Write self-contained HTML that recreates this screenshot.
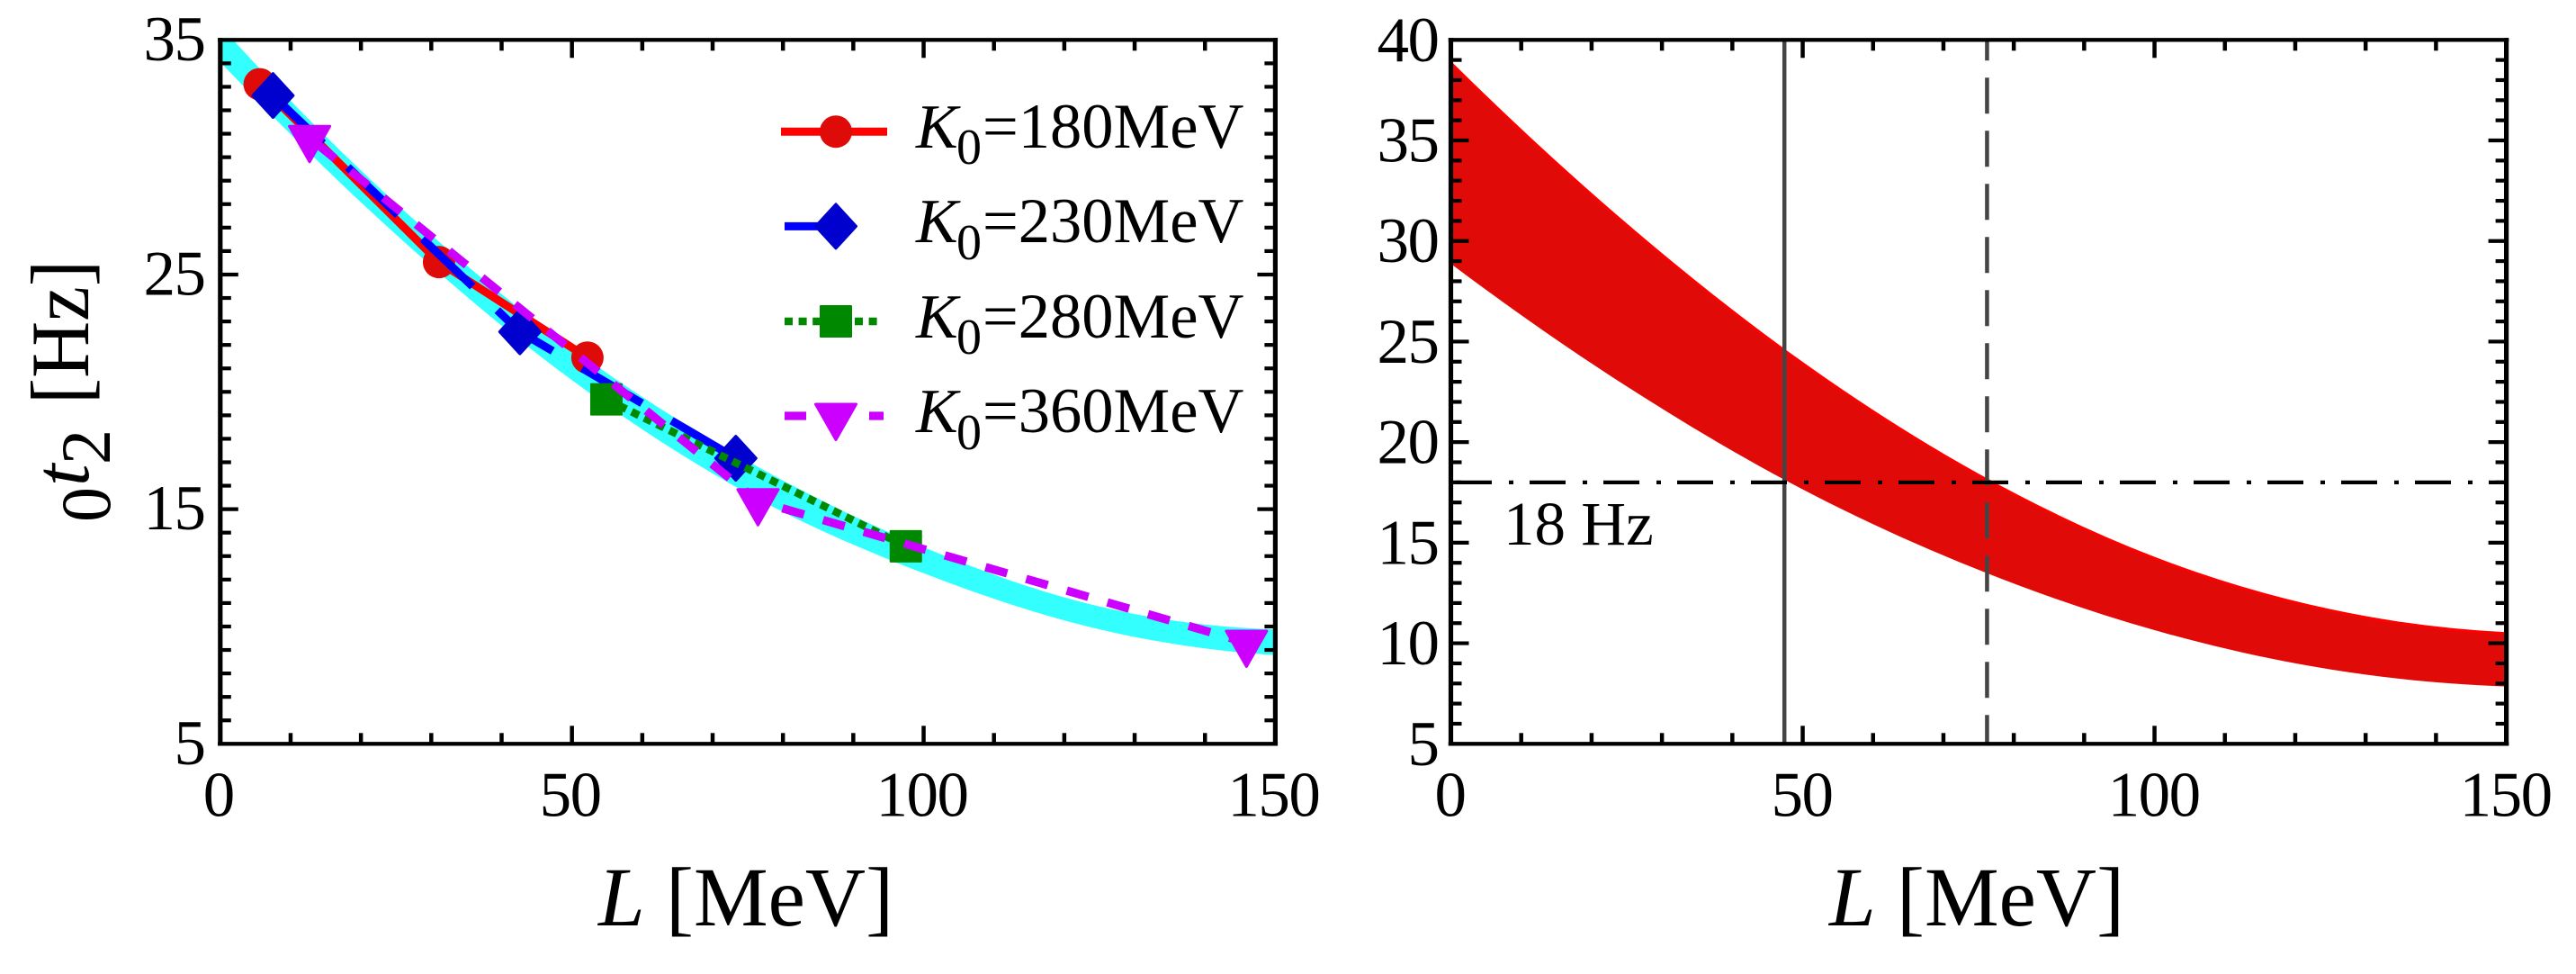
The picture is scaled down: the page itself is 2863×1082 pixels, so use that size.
<!DOCTYPE html>
<html lang="en">
<head>
<meta charset="utf-8">
<title>Symmetry energy frequency chart</title>
<style>
html,body{margin:0;padding:0;background:#fff;width:2863px;height:1082px;overflow:hidden}
svg{display:block}
text{font-family:"Liberation Serif",serif;fill:#000}
</style>
</head>
<body>
<svg id="chart" xmlns="http://www.w3.org/2000/svg" width="2863" height="1082" viewBox="0 0 2863 1082">
  <g id="left-panel"></g>
  <g id="right-panel"></g>

  <g>
    <text transform="translate(122,580) rotate(-90)" font-size="78">0</text>
    <text transform="translate(98,540) rotate(-90)" font-size="88" font-style="italic">t</text>
    <text transform="translate(122,516) rotate(-90)" font-size="78">2</text>
    <text transform="translate(98,449) rotate(-90)" font-size="92" textLength="160" lengthAdjust="spacingAndGlyphs">[Hz]</text>
  </g>
  <text x="665" y="1028" font-size="93"><tspan font-style="italic">L</tspan> [MeV]</text>
  <text x="2033" y="1028" font-size="93"><tspan font-style="italic">L</tspan> [MeV]</text>
  <text x="1671" y="605" font-size="69">18 Hz</text>

  <g id="legend">
    <g>
      <text x="1018" y="164" font-size="70" font-style="italic">K</text>
      <text x="1063" y="182" font-size="56">0</text>
      <text x="1092" y="164" font-size="70.5">=180MeV</text>
    </g>
    <g>
      <text x="1018" y="269" font-size="70" font-style="italic">K</text>
      <text x="1063" y="288" font-size="56">0</text>
      <text x="1092" y="269" font-size="70.5">=230MeV</text>
    </g>
    <g>
      <text x="1018" y="375" font-size="70" font-style="italic">K</text>
      <text x="1063" y="393" font-size="56">0</text>
      <text x="1092" y="375" font-size="70.5">=280MeV</text>
    </g>
    <g>
      <text x="1018" y="480" font-size="70" font-style="italic">K</text>
      <text x="1063" y="499" font-size="56">0</text>
      <text x="1092" y="480" font-size="70.5">=360MeV</text>
    </g>
  </g>
</svg>

<script>
// ---------- Tick labels ----------
const leftXTickLabels = [0, 50, 100, 150];
const leftYTickLabels = [5, 15, 25, 35];
const rightXTickLabels = [0, 50, 100, 150];
const rightYTickLabels = [5, 10, 15, 20, 25, 30, 35, 40];

// ---------- Left panel data ----------
const bandL = [0, 25, 50, 75, 100, 125, 150];
const cyanUpperV = [35.6, 28.03, 21.86, 17.05, 13.38, 10.85, 9.88];
const cyanLowerV = [34.06, 26.7, 20.5, 15.67, 12.27, 9.88, 8.78];

const redSeriesL = [5.6, 31.1, 52.2];
const redSeriesV = [33.11, 25.53, 21.46];
const blueSeriesL = [7.5, 42.6, 73.3];
const blueSeriesV = [32.63, 22.56, 17.17];
const greenSeriesL = [54.9, 97.47];
const greenSeriesV = [19.68, 13.42];
const purpleSeriesL = [12.7, 76.45, 145.9];
const purpleSeriesV = [30.82, 15.34, 9.31];

// ---------- Right panel data ----------
const redUpperV = [38.9, 30.83, 23.95, 18.4, 14.27, 11.67, 10.53];
const redLowerV = [28.87, 22.77, 17.65, 13.65, 10.65, 8.7, 7.85];

const thresholdHz = [18];
const solidL = [47.4];
const dashedL = [76.2];

// ---------- Helpers ----------
const NS = 'http://www.w3.org/2000/svg';
const svgRoot = document.getElementById('chart');
const leftG = document.getElementById('left-panel');
const rightG = document.getElementById('right-panel');

function mk(tag, attrs, name, parent) {
  const el = document.createElementNS(NS, tag);
  for (const k in attrs) el.setAttribute(k, attrs[k]);
  
  
  parent.appendChild(el);
  return el;
}

const leftBox = {x0: 244.8, x1: 1417.4, y0: 826.3, y1: 44.3, xMax: 150, vMin: 5, vMax: 35};
const rightBox = {x0: 1612.5, x1: 2785.6, y0: 826.3, y1: 44.3, xMax: 150, vMin: 5, vMax: 40};

function sx(b, L) { return b.x0 + (L / b.xMax) * (b.x1 - b.x0); }
function sy(b, v) { return b.y0 - ((v - b.vMin) / (b.vMax - b.vMin)) * (b.y0 - b.y1); }

function pts(b, Ls, Vs) { return Ls.map(function (L, i) { return [sx(b, L), sy(b, Vs[i])]; }); }

// Catmull-Rom through evenly spaced points, ends extrapolated quadratically
function smooth(p, move) {
  const n = p.length;
  const get = function (i) {
    if (i >= 0 && i < n) return p[i];
    if (i < 0) return [3 * p[0][0] - 3 * p[1][0] + p[2][0], 3 * p[0][1] - 3 * p[1][1] + p[2][1]];
    return [3 * p[n - 1][0] - 3 * p[n - 2][0] + p[n - 3][0], 3 * p[n - 1][1] - 3 * p[n - 2][1] + p[n - 3][1]];
  };
  let d = move ? 'M' + p[0][0].toFixed(2) + ' ' + p[0][1].toFixed(2) : '';
  for (let i = 0; i < n - 1; i++) {
    const a = get(i - 1), b = p[i], c = p[i + 1], e = get(i + 2);
    const c1x = b[0] + (c[0] - a[0]) / 6, c1y = b[1] + (c[1] - a[1]) / 6;
    const c2x = c[0] - (e[0] - b[0]) / 6, c2y = c[1] - (e[1] - b[1]) / 6;
    d += 'C' + c1x.toFixed(2) + ' ' + c1y.toFixed(2) + ' ' + c2x.toFixed(2) + ' ' + c2y.toFixed(2) + ' ' + c[0].toFixed(2) + ' ' + c[1].toFixed(2);
  }
  return d;
}

function bandPath(b, Ls, uV, lV) {
  const up = pts(b, Ls, uV);
  const lo = pts(b, Ls, lV).reverse();
  return smooth(up, true) + 'L' + lo[0][0].toFixed(2) + ' ' + lo[0][1].toFixed(2) + smooth(lo, false) + 'Z';
}

function range(a, b, step) { const r = []; for (let v = a; v <= b + 1e-9; v += step) r.push(v); return r; }

function frameAndTicks(b, g, xLabels, yLabels, labelRight, yBase, xCenters, prefix) {
  const xMajor = 50, yMajor = (b.vMax === 40 ? 5 : 10);
  range(0, b.xMax, 10).forEach(function (L) {
    if (L === 0 || L === b.xMax) return;
    const len = L % xMajor === 0 ? 20 : 12;
    const x = sx(b, L);
    mk('line', {x1: x, x2: x, y1: b.y0, y2: b.y0 - len, stroke: '#000', 'stroke-width': 4.5}, prefix + '-x-tick-bottom', g);
    mk('line', {x1: x, x2: x, y1: b.y1, y2: b.y1 + len, stroke: '#000', 'stroke-width': 4.5}, prefix + '-x-tick-top', g);
  });
  range(b.vMin, b.vMax, 1).forEach(function (v) {
    if (v === b.vMin || v === b.vMax) return;
    const len = (v - b.vMin) % yMajor === 0 ? 20 : 12;
    const y = sy(b, v);
    mk('line', {x1: b.x0, x2: b.x0 + len, y1: y, y2: y, stroke: '#000', 'stroke-width': 4.2}, prefix + '-y-tick-left', g);
    mk('line', {x1: b.x1, x2: b.x1 - len, y1: y, y2: y, stroke: '#000', 'stroke-width': 4.2}, prefix + '-y-tick-right', g);
  });
  mk('line', {x1: b.x0 - 2.7, x2: b.x1 + 2.7, y1: b.y1, y2: b.y1, stroke: '#000', 'stroke-width': 4.4}, prefix + '-frame-top', g);
  mk('line', {x1: b.x0 - 2.7, x2: b.x1 + 2.7, y1: b.y0, y2: b.y0, stroke: '#000', 'stroke-width': 4.4}, prefix + '-frame-bottom', g);
  mk('line', {x1: b.x0, x2: b.x0, y1: b.y1 - 2.2, y2: b.y0 + 2.2, stroke: '#000', 'stroke-width': 5.2}, prefix + '-frame-left', g);
  mk('line', {x1: b.x1, x2: b.x1, y1: b.y1 - 2.2, y2: b.y0 + 2.2, stroke: '#000', 'stroke-width': 5.2}, prefix + '-frame-right', g);

  xLabels.forEach(function (L) {
    const t = mk('text', {x: sx(b, L) + xCenters, y: 906.5, 'font-size': 71, 'text-anchor': 'middle', 'letter-spacing': -1.5}, prefix + '-x-tick-label', g);
    t.textContent = String(L);
  });
  yLabels.forEach(function (v) {
    const t = mk('text', {x: labelRight, y: sy(b, v) + yBase, 'font-size': 71, 'text-anchor': 'end', 'letter-spacing': -1.5}, prefix + '-y-tick-label', g);
    t.textContent = String(v);
  });
}

// Each series is a straight polyline joining its computed points
function drawLine(b, g, Ls, Vs, style, name) {
  const attrs = {points: pts(b, Ls, Vs).map(function (q) { return q[0].toFixed(2) + ',' + q[1].toFixed(2); }).join(' '), fill: 'none', 'stroke-linejoin': 'round'};
  for (const k in style) attrs[k] = style[k];
  return mk('polyline', attrs, name, g);
}

// Marker shapes, sizes in px around a centre
function circleMark(g, x, y, name) { mk('circle', {cx: x, cy: y, r: 18, fill: '#de0b08'}, name, g); }
function diamondMark(g, x, y, name) {
  const hw = 22.5, hh = 24.5;
  mk('polygon', {points: [x - hw, y, x, y - hh, x + hw, y, x, y + hh].join(' '), fill: '#0000cf', stroke: '#0000cf', 'stroke-width': 3, 'stroke-linejoin': 'round'}, name, g);
}
function squareMark(g, x, y, name) { mk('rect', {x: x - 18, y: y - 18, width: 36, height: 36, rx: 1, fill: '#008800'}, name, g); }
function triangleMark(g, x, y, name) {
  mk('polygon', {points: [x - 22.5, y - 13, x + 22.5, y - 13, x, y + 26.5].join(' '), fill: '#cc00ff', stroke: '#cc00ff', 'stroke-width': 3, 'stroke-linejoin': 'round'}, name, g);
}

// ---------- Left panel ----------
const clipDefs = mk('defs', {}, 'clip-definitions', svgRoot);
const lc = mk('clipPath', {id: 'leftClip'}, 'left-clip', clipDefs);
mk('rect', {x: leftBox.x0, y: leftBox.y1, width: leftBox.x1 - leftBox.x0, height: leftBox.y0 - leftBox.y1}, 'left-clip-rect', lc);
const rc = mk('clipPath', {id: 'rightClip'}, 'right-clip', clipDefs);
mk('rect', {x: rightBox.x0, y: rightBox.y1, width: rightBox.x1 - rightBox.x0, height: rightBox.y0 - rightBox.y1}, 'right-clip-rect', rc);

mk('path', {d: bandPath(leftBox, bandL, cyanUpperV, cyanLowerV), fill: '#33ffff', 'clip-path': 'url(#leftClip)'}, 'cyan-band', leftG);

const redStyle = {stroke: '#ff0000', 'stroke-width': 9};
const blueStyle = {stroke: '#0000ff', 'stroke-width': 9, 'stroke-dasharray': '77 38'};
const greenStyle = {stroke: '#008800', 'stroke-width': 8.6, 'stroke-dasharray': '9 6.6'};
const purpleStyle = {stroke: '#cc00ff', 'stroke-width': 9.3, 'stroke-dasharray': '25 22', 'stroke-dashoffset': -11.5};

drawLine(leftBox, leftG, redSeriesL, redSeriesV, redStyle, 'series-k180-line');
redSeriesL.forEach(function (L, i) { circleMark(leftG, sx(leftBox, L), sy(leftBox, redSeriesV[i]), 'series-k180-marker'); });
drawLine(leftBox, leftG, blueSeriesL, blueSeriesV, blueStyle, 'series-k230-line');
blueSeriesL.forEach(function (L, i) { diamondMark(leftG, sx(leftBox, L), sy(leftBox, blueSeriesV[i]), 'series-k230-marker'); });
greenSeriesL.forEach(function (L, i) { squareMark(leftG, sx(leftBox, L), sy(leftBox, greenSeriesV[i]), 'series-k280-marker'); });
drawLine(leftBox, leftG, greenSeriesL, greenSeriesV, greenStyle, 'series-k280-line');
purpleSeriesL.forEach(function (L, i) { triangleMark(leftG, sx(leftBox, L), sy(leftBox, purpleSeriesV[i]), 'series-k360-marker'); });
drawLine(leftBox, leftG, purpleSeriesL, purpleSeriesV, purpleStyle, 'series-k360-line');

frameAndTicks(leftBox, leftG, leftXTickLabels, leftYTickLabels, 227.5, 22.5, -2, 'left');

// ---------- Right panel ----------
mk('path', {d: bandPath(rightBox, bandL, redUpperV, redLowerV), fill: '#e00b08', 'clip-path': 'url(#rightClip)'}, 'red-band', rightG);
const edgeGroup = mk('g', {'clip-path': 'url(#rightClip)'}, 'red-band-edge-group', rightG);
mk('path', {d: smooth(pts(rightBox, bandL, redUpperV), true), fill: 'none', stroke: '#ff0000', 'stroke-width': 3, transform: 'translate(0,1)'}, 'red-band-upper-edge', edgeGroup);

solidL.forEach(function (L) {
  mk('line', {x1: sx(rightBox, L), x2: sx(rightBox, L), y1: rightBox.y1, y2: rightBox.y0, stroke: '#444', 'stroke-width': 4.5}, 'solid-reference-line', rightG);
});
dashedL.forEach(function (L) {
  mk('line', {x1: sx(rightBox, L), x2: sx(rightBox, L), y1: rightBox.y1 + 2, y2: rightBox.y0, stroke: '#444', 'stroke-width': 4.5, 'stroke-dasharray': '40 19', 'stroke-dashoffset': 19}, 'dashed-reference-line', rightG);
});
thresholdHz.forEach(function (v) {
  mk('line', {x1: rightBox.x0 + 5.5, x2: rightBox.x1, y1: sy(rightBox, v), y2: sy(rightBox, v), stroke: '#000', 'stroke-width': 4.2, 'stroke-dasharray': '40 19 5 18'}, 'threshold-line', rightG);
});

frameAndTicks(rightBox, rightG, rightXTickLabels, rightYTickLabels, 1598.5, 23.5, -1, 'right');

// ---------- Legend glyphs ----------
const legendG = document.getElementById('legend');
const legendMarkX = 929;
mk('line', {x1: 868, x2: 986, y1: 146.3, y2: 146.3, stroke: '#ff0000', 'stroke-width': 9}, 'legend-line-180', legendG);
circleMark(legendG, legendMarkX, 146.3, 'legend-marker-180');
mk('line', {x1: 872, x2: 949, y1: 251.4, y2: 251.4, stroke: '#0000ff', 'stroke-width': 9}, 'legend-line-230', legendG);
diamondMark(legendG, legendMarkX, 251.4, 'legend-marker-230');
mk('line', {x1: 872, x2: 975, y1: 357, y2: 357, stroke: '#008800', 'stroke-width': 8.6, 'stroke-dasharray': '9 6.6'}, 'legend-line-280', legendG);
squareMark(legendG, legendMarkX, 357, 'legend-marker-280');
mk('line', {x1: 872, x2: 982, y1: 462, y2: 462, stroke: '#cc00ff', 'stroke-width': 9.3, 'stroke-dasharray': '24 70'}, 'legend-line-360', legendG);
triangleMark(legendG, legendMarkX, 462, 'legend-marker-360');
</script>
</body>
</html>
